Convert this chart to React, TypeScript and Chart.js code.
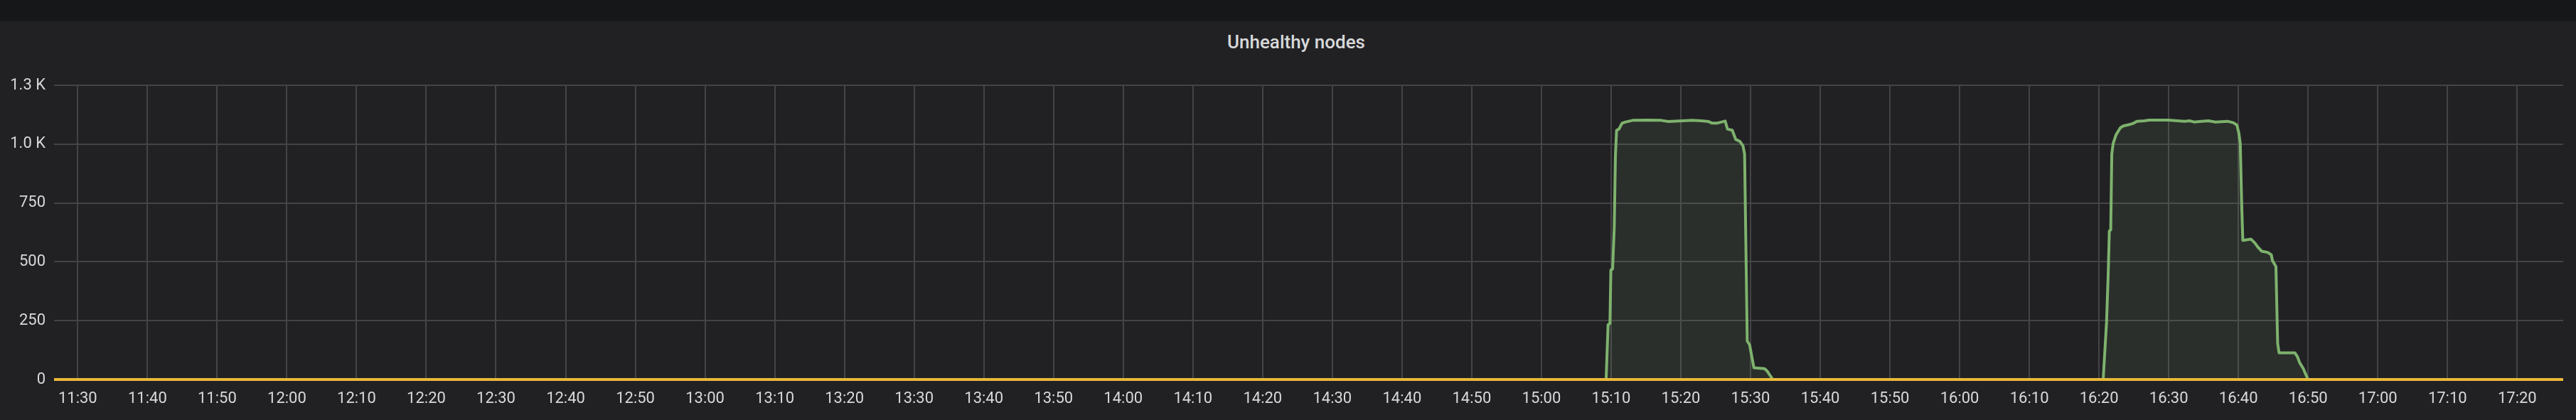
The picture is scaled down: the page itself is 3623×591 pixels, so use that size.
import React, { useEffect, useRef } from "react";
import { Chart, registerables } from "chart.js";

Chart.register(...registerables);

const chartTitle = "Unhealthy nodes";

const rangeStart = "11:26:36";
const rangeEnd = "17:26:36";

const xTickLabels = [
  "11:30", "11:40", "11:50", "12:00", "12:10", "12:20", "12:30", "12:40", "12:50",
  "13:00", "13:10", "13:20", "13:30", "13:40", "13:50", "14:00", "14:10", "14:20",
  "14:30", "14:40", "14:50", "15:00", "15:10", "15:20", "15:30", "15:40", "15:50",
  "16:00", "16:10", "16:20", "16:30", "16:40", "16:50", "17:00", "17:10", "17:20",
];

const yTickValues = [0, 250, 500, 750, 1000, 1250];
const yTickLabels = ["0", "250", "500", "750", "1.0 K", "1.3 K"];

const unhealthyTimes = [
  "11:26:36",
  "15:09:17", "15:09:34", "15:09:50", "15:09:58", "15:10:13", "15:10:27", "15:10:37",
  "15:10:47", "15:11:08", "15:11:34", "15:12:05", "15:13:06", "15:15:08", "15:17:11",
  "15:18:12", "15:20:14", "15:21:36", "15:22:58", "15:23:59", "15:24:29", "15:25:10",
  "15:26:22", "15:26:42", "15:27:23", "15:27:53", "15:28:28", "15:28:55", "15:29:09",
  "15:29:32", "15:29:52", "15:30:29", "15:32:01", "15:32:21", "15:33:12",
  "16:20:36", "16:21:05", "16:21:19", "16:21:29", "16:21:41", "16:21:50", "16:22:02",
  "16:22:26", "16:23:03", "16:23:28", "16:24:29", "16:24:59", "16:25:26", "16:26:31",
  "16:27:12", "16:29:55", "16:32:18", "16:32:59", "16:33:40", "16:34:41", "16:35:42",
  "16:36:43", "16:38:25", "16:39:16", "16:39:47", "16:40:03", "16:40:16", "16:40:28",
  "16:40:38", "16:41:49", "16:42:20", "16:42:50", "16:43:21", "16:44:12", "16:44:43",
  "16:44:53", "16:45:23", "16:45:38", "16:45:50", "16:48:07", "16:48:27", "16:48:47",
  "16:49:18", "16:49:59",
  "17:26:36",
];

const unhealthyValues = [
  0,
  0, 233, 238, 465, 470, 646, 948,
  1059, 1064, 1089, 1094, 1101, 1102, 1101,
  1096, 1099, 1101, 1099, 1096, 1089, 1089,
  1098, 1064, 1059, 1020, 1012, 993, 958,
  163, 148, 50, 46, 37, 0,
  0, 244, 445, 631, 636, 958, 1003,
  1039, 1069, 1077, 1084, 1089, 1097, 1099,
  1102, 1102, 1097, 1099, 1094, 1097, 1099,
  1094, 1097, 1091, 1081, 1049, 1003, 747,
  591, 596, 581, 561, 545, 540, 530,
  505, 480, 153, 113, 113, 98, 72,
  47, 0,
  0,
];

const baselineTimes = [rangeStart, rangeEnd];
const baselineValues = [0, 0];

function toMin(s: string): number {
  const parts = s.split(":").map(Number);
  return parts[0] * 60 + parts[1] + (parts[2] || 0) / 60;
}

export default function App() {
  const canvasRef = useRef<HTMLCanvasElement | null>(null);

  useEffect(() => {
    document.body.style.margin = "0";
    const canvas = canvasRef.current;
    if (!canvas) return;
    const tickFont = { family: "Roboto", size: 22 };
    const clip = { left: 0, right: 0, top: 4, bottom: 4 };
    const chart = new Chart(canvas, {
      type: "line",
      data: {
        datasets: [
          {
            label: "baseline",
            data: baselineTimes.map((t, i) => ({ x: toMin(t), y: baselineValues[i] })),
            borderColor: "#EAB839",
            borderWidth: 4,
            pointRadius: 0,
            fill: false,
            clip,
            order: 0,
          },
          {
            label: "unhealthy",
            data: unhealthyTimes.map((t, i) => ({ x: toMin(t), y: unhealthyValues[i] })),
            borderColor: "#7EB26D",
            backgroundColor: "rgba(126,178,109,0.1)",
            borderWidth: 4,
            borderJoinStyle: "round",
            pointRadius: 0,
            tension: 0,
            fill: "origin",
            clip,
            order: 1,
          },
        ],
      },
      options: {
        animation: false,
        responsive: false,
        devicePixelRatio: 1,
        layout: { padding: { top: 120, right: 18, left: 0, bottom: 0 } },
        plugins: {
          legend: { display: false },
          tooltip: { enabled: false },
          title: { display: false },
        },
        scales: {
          x: {
            type: "linear",
            min: toMin(rangeStart),
            max: toMin(rangeEnd),
            afterBuildTicks: (scale: any) => {
              scale.ticks = xTickLabels.map((l) => ({ value: toMin(l) }));
            },
            afterFit: (scale: any) => {
              scale.height = 57;
            },
            ticks: {
              autoSkip: false,
              maxRotation: 0,
              padding: 14,
              color: "#d8d9da",
              font: tickFont,
              callback: (_v: any, i: number) => xTickLabels[i],
            },
            grid: { color: "#444447", lineWidth: 2, drawTicks: false },
            border: { display: false },
          },
          y: {
            min: 0,
            max: 1250,
            afterBuildTicks: (scale: any) => {
              scale.ticks = yTickValues.map((v) => ({ value: v }));
            },
            afterFit: (scale: any) => {
              scale.width = 76;
            },
            ticks: {
              padding: 12,
              color: "#d8d9da",
              font: tickFont,
              callback: (_v: any, i: number) => yTickLabels[i],
            },
            grid: { color: "#444447", lineWidth: 2, drawTicks: false },
            border: { display: false },
          },
        },
      },
    } as any);
    return () => chart.destroy();
  }, []);

  return (
    <div
      style={{
        position: "relative",
        width: 3623,
        height: 591,
        background: "#212124",
        overflow: "hidden",
      }}
    >
      <div
        style={{
          position: "absolute",
          left: 0,
          top: 0,
          width: 3623,
          height: 30,
          background: "#161719",
        }}
      />
      <div
        style={{
          position: "absolute",
          left: 1823,
          top: 46,
          transform: "translateX(-50%)",
          font: "500 26px Roboto",
          lineHeight: "26px",
          color: "#d8d9da",
          whiteSpace: "nowrap",
        }}
      >
        {chartTitle}
      </div>
      <canvas
        ref={canvasRef}
        width={3623}
        height={591}
        style={{ position: "absolute", left: 0, top: 0, width: 3623, height: 591 }}
      />
    </div>
  );
}
